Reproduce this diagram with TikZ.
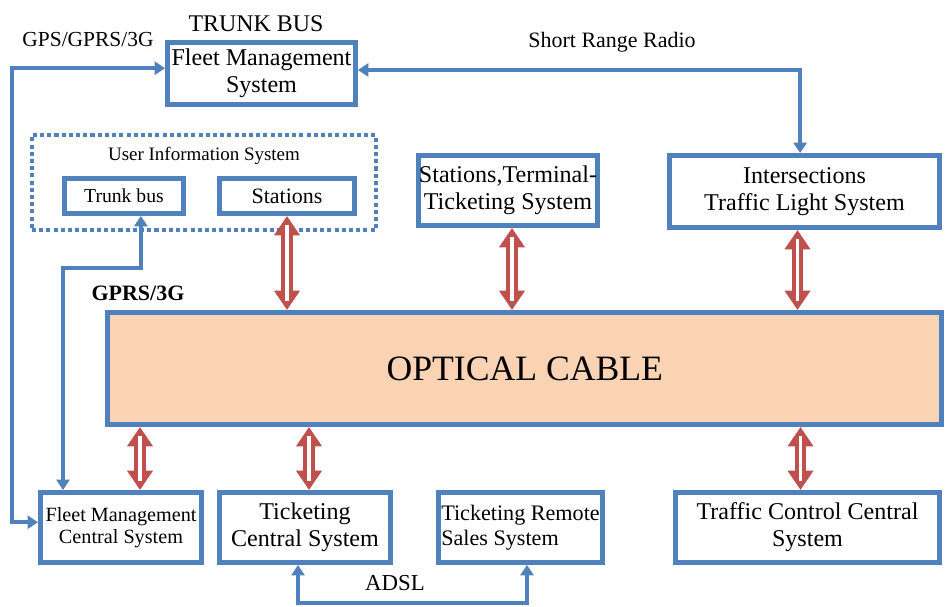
\documentclass[tikz,border=0pt]{standalone}
\usepackage{fontspec}
\setmainfont{Liberation Serif}
\usetikzlibrary{positioning,arrows.meta,calc}
\definecolor{bluec}{HTML}{4F81BD}
\definecolor{redc}{HTML}{C0504D}
\definecolor{peach}{HTML}{FAD3B4}
\tikzset{
    box/.style={draw=bluec, line width=2.8pt, inner sep=0pt, align=center,
        font=\fontsize{13.7}{15.5}\selectfont},
    smallbox/.style={box, font=\fontsize{11.5}{12.8}\selectfont},
    uisbox/.style={draw=bluec, line width=2.3pt, dash pattern=on 2.3pt off 1.8pt},
    lbl/.style={inner sep=0pt, font=\fontsize{12.5}{14}\selectfont},
    barrow/.style={draw=bluec, line width=2.3pt,
        {Triangle[length=6pt,width=7.5pt]}-{Triangle[length=6pt,width=7.5pt]}},
    rarrow/.style={draw=redc, line width=6.6pt,
        {Triangle[length=11pt,width=14pt]}-{Triangle[length=11pt,width=14pt]},
        postaction={draw=white, line width=2.2pt, arrows=-, shorten >=5pt, shorten <=5pt}}
}
\begin{document}
\begin{tikzpicture}[x=0.02cm, y=-0.02cm]
    \useasboundingbox (0,0) rectangle (945,607);

    % top row
    \node[box, minimum width=3.76cm, minimum height=1.24cm] (fms) at (261.5,73.5) {Fleet Management\\System};
    \node[lbl, font=\fontsize{13.6}{15}\selectfont] (trunk) at (256,24) {TRUNK BUS};
    \node[lbl, font=\fontsize{12.2}{14}\selectfont] (gps) at (88,40) {GPS/GPRS/3G};
    \node[lbl] (srr) at (612,42) {Short Range Radio};

    % user information system
    \node[uisbox, minimum width=6.88cm, minimum height=1.9cm] (uis) at (204,182.5) {};
    \node[lbl, font=\fontsize{10.8}{12}\selectfont] (uistitle) at (204,156) {User Information System};
    \node[box, font=\fontsize{11.2}{12}\selectfont, minimum width=2.38cm, minimum height=0.7cm] (tbus) at (124,196) {Trunk bus};
    \node[box, font=\fontsize{12.5}{13}\selectfont, minimum width=2.7cm, minimum height=0.7cm] (stat) at (287,196) {Stations};

    \node[box, minimum width=3.5cm, minimum height=1.4cm] (stt) at (508,190.5) {Stations,Terminal-\\Ticketing System};
    \node[box, minimum width=5.4cm, minimum height=1.44cm] (itls) at (804.5,191.5) {Intersections\\Traffic Light System};

    % optical cable
    \node[box, fill=peach, minimum width=16.69cm, minimum height=2.24cm,
        font=\fontsize{20.3}{22}\selectfont] (opt) at (524.75,368.5) {OPTICAL CABLE};
    \node[lbl, font=\fontsize{12.5}{14}\bfseries] (gprs) at (138,293) {GPRS/3G};

    % bottom row
    \node[smallbox, minimum width=3.22cm, minimum height=1.4cm] (fmcs) at (121,527.5) {Fleet Management\\Central System};
    \node[box, minimum width=3.42cm, minimum height=1.4cm] (tcs) at (305,527.5) {Ticketing\\Central System};
    \node[box, align=left, font=\fontsize{12.6}{14}\selectfont, minimum width=3.28cm, minimum height=1.4cm] (trss) at (520.5,527.5) {Ticketing Remote\\Sales System};
    \node[box, minimum width=5.28cm, minimum height=1.4cm] (tccs) at (807.5,527.5) {Traffic Control Central\\System};
    \node[lbl, font=\fontsize{13}{14}\selectfont] (adsl) at (395,583) {ADSL};

    % blue links
    \coordinate (gpsK) at (12,300);
    \coordinate (gprsK) at (100,268);
    \coordinate (adslK) at (400,603);
    \draw[barrow] ([yshift=3pt]fmcs.west) -| (gpsK) |- ([yshift=3pt]fms.west);
    \draw[barrow] ([yshift=2pt]fms.east) -| ([xshift=-2.5pt]itls.north);
    \draw[barrow] ([xshift=9.6pt]tbus.south) |- (gprsK) -| ([xshift=-33pt]fmcs.north);
    \draw[barrow] ([xshift=-4pt]tcs.south) |- (adslK) -| ([xshift=3.7pt]trss.south);

    % optical cable links
    \draw[rarrow] (stat.south) -- (stat.south |- opt.north);
    \draw[rarrow] ($(stt.south)+(4,0)$) -- ($(stt.south |- opt.north)+(4,0)$);
    \draw[rarrow] ($(itls.south)+(-7,0)$) -- ($(itls.south |- opt.north)+(-7,0)$);
    \draw[rarrow] ($(opt.south -| fmcs.north)+(19,0)$) -- ($(fmcs.north)+(19,0)$);
    \draw[rarrow] ($(opt.south -| tcs.north)+(4,0)$) -- ($(tcs.north)+(4,0)$);
    \draw[rarrow] ($(opt.south -| tccs.north)+(-7,0)$) -- ($(tccs.north)+(-7,0)$);
\end{tikzpicture}
\end{document}
